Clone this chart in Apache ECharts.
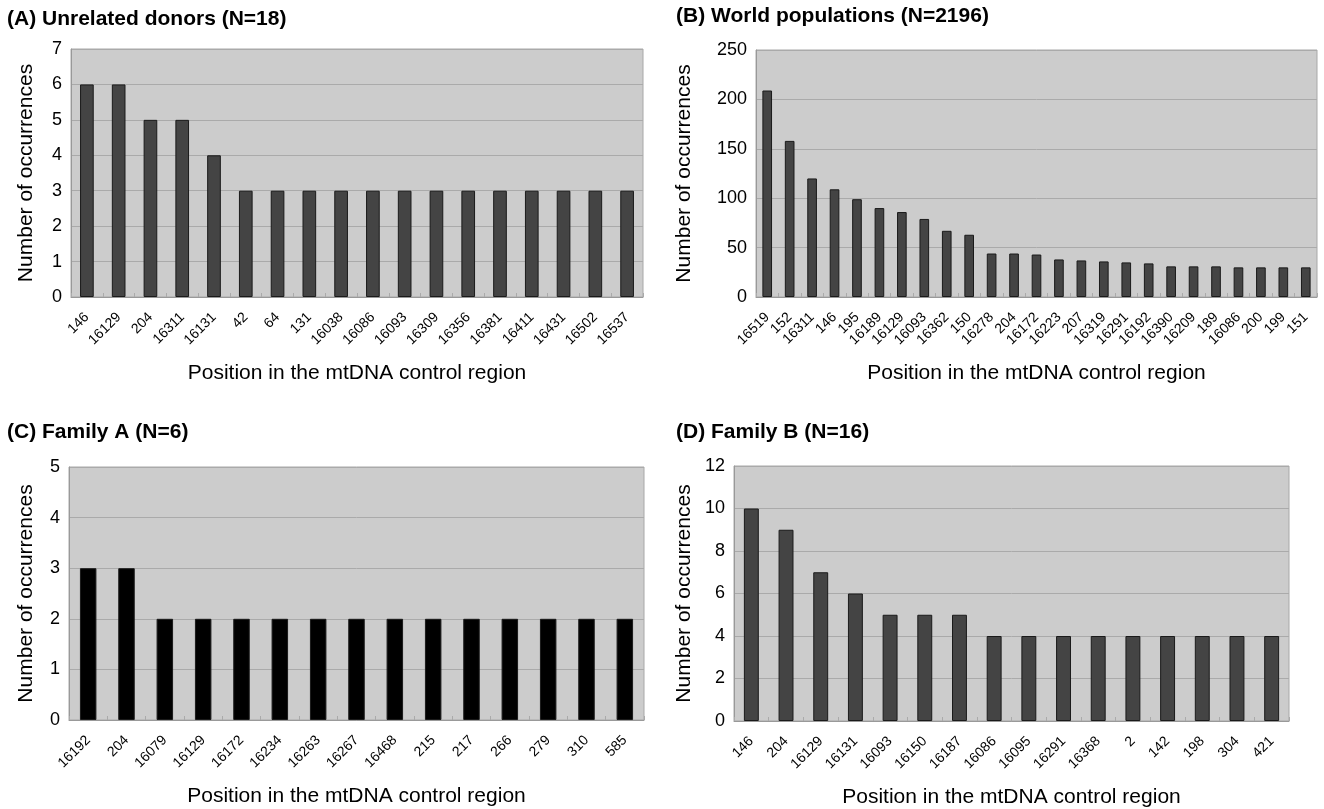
<!DOCTYPE html>
<html>
<head>
<meta charset="utf-8">
<script src="https://cdn.jsdelivr.net/npm/echarts@6/dist/echarts.min.js"></script>
<style>
html,body{margin:0;padding:0;background:#fff;}
#c{width:1324px;height:809px;}
</style>
</head>
<body>
<div id="c"></div>
<script>
const catsA = ['146','16129','204','16311','16131','42','64','131','16038','16086','16093','16309','16356','16381','16411','16431','16502','16537'];
const valsA = [6,6,5,5,4,3,3,3,3,3,3,3,3,3,3,3,3,3];
const catsB = ['16519','152','16311','146','195','16189','16129','16093','16362','150','16278','204','16172','16223','207','16319','16291','16192','16390','16209','189','16086','200','199','151'];
const valsB = [209,158,120,109,99,90,86,79,67,63,44,44,43,38,37,36,35,34,31,31,31,30,30,30,30];
const catsC = ['16192','204','16079','16129','16172','16234','16263','16267','16468','215','217','266','279','310','585'];
const valsC = [3,3,2,2,2,2,2,2,2,2,2,2,2,2,2];
const catsD = ['146','204','16129','16131','16093','16150','16187','16086','16095','16291','16368','2','142','198','304','421'];
const valsD = [10,9,7,6,5,5,5,4,4,4,4,4,4,4,4,4];
const titles = ['(A) Unrelated donors (N=18)','(B) World populations (N=2196)','(C) Family A (N=6)','(D) Family B (N=16)'];
const yMax = [7,250,5,12];
const yStep = [1,50,1,2];
const xName = 'Position in the mtDNA control region';
const yName = 'Number of occurrences';

const FONT = 'Liberation Sans, Arial, sans-serif';
const grids = [
  {left:71, top:49, width:572, height:248},
  {left:756, top:50, width:561, height:247},
  {left:69, top:467, width:575, height:253},
  {left:734, top:466, width:555, height:256}
];
const titlePos = [{left:7, top:9},{left:676, top:6},{left:7, top:422},{left:676, top:422}];
const yGap = [34, 61, 32, 39];
const cats = [catsA, catsB, catsC, catsD];
const vals = [valsA, valsB, valsC, valsD];
const barColors = ['#444444','#444444','#000000','#444444'];

const option = {
  backgroundColor:'#ffffff',
  animation:false,
  title: titles.map((t,i)=>({text:t, left:titlePos[i].left, top:titlePos[i].top, padding:0,
    textStyle:{fontFamily:FONT, fontWeight:'bold', fontSize:21, color:'#000'}})),
  grid: grids.map(g=>Object.assign({show:true, backgroundColor:'#cccccc', borderColor:'#a8a8a8', borderWidth:1, containLabel:false}, g)),
  xAxis: cats.map((c,i)=>({
    type:'category', gridIndex:i, data:c,
    name:xName, nameLocation:'middle', nameGap:66,
    nameTextStyle:{fontFamily:FONT, fontSize:21, color:'#000'},
    axisLine:{show:true, lineStyle:{color:'#999999', width:1}},
    axisTick:{show:true, inside:true, length:4, lineStyle:{color:'#aaaaaa'}},
    axisLabel:{interval:0, rotate:45, margin:18, fontFamily:FONT, fontSize:14, color:'#000'},
    splitLine:{show:false}
  })),
  yAxis: cats.map((c,i)=>({
    type:'value', gridIndex:i, min:0, max:yMax[i], interval:yStep[i],
    name:yName, nameLocation:'middle', nameGap:yGap[i],
    nameTextStyle:{fontFamily:FONT, fontSize:21, color:'#000'},
    axisLine:{show:true, lineStyle:{color:'#999999'}},
    axisTick:{show:false},
    axisLabel:{margin:9, fontFamily:FONT, fontSize:18, color:'#000'},
    splitLine:{show:true, lineStyle:{color:'#aaaaaa', width:1}}
  })),
  series: vals.map((v,i)=>({
    type:'bar', xAxisIndex:i, yAxisIndex:i, data:v, barWidth:'43%',
    itemStyle:{color:barColors[i], borderColor:'#1a1a1a', borderWidth:1}
  }))
};
const chart = echarts.init(document.getElementById('c'), null, {renderer:'canvas'});
chart.setOption(option);
</script>
</body>
</html>
